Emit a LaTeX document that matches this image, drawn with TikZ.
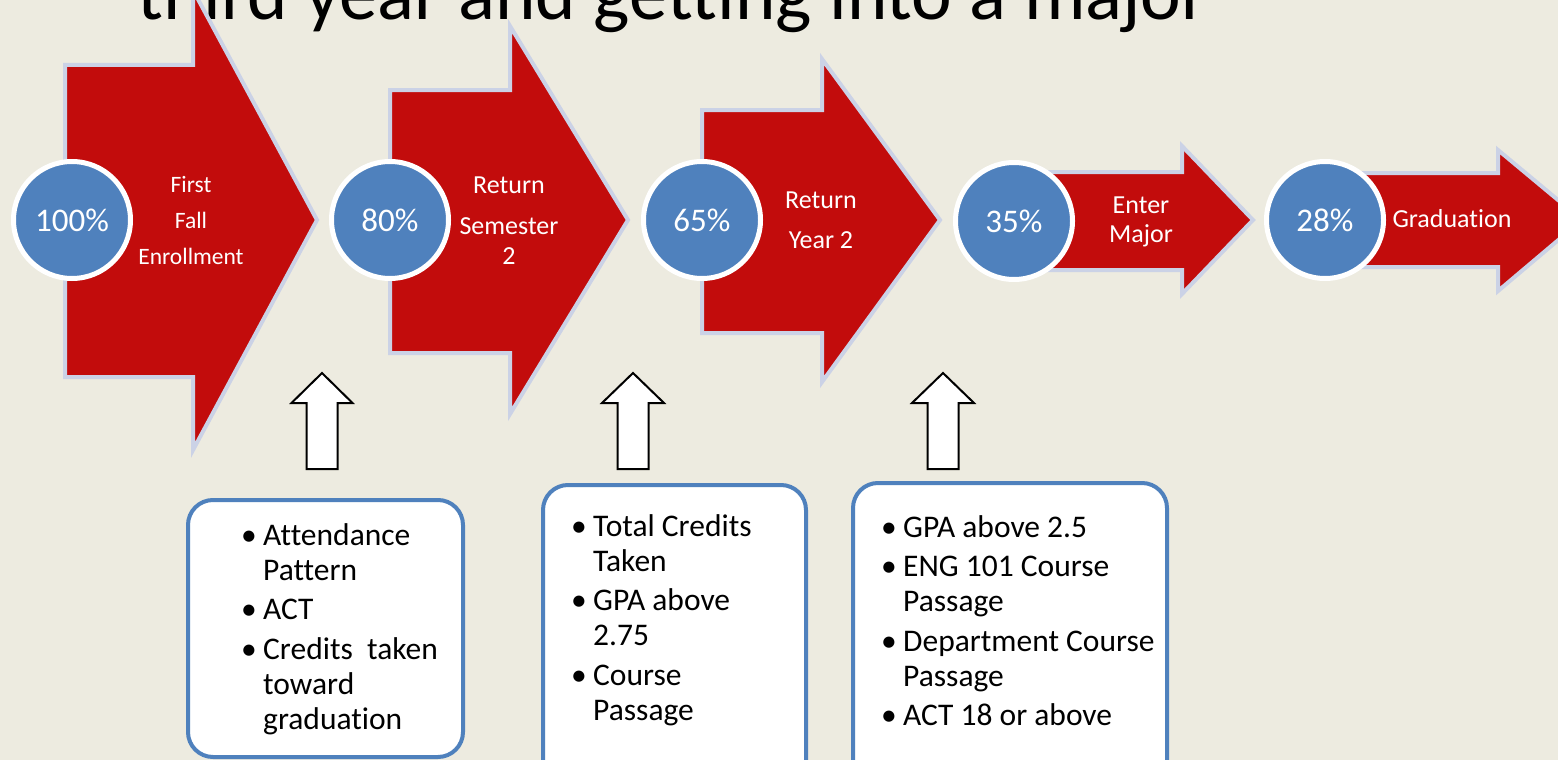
\documentclass[tikz,border=0pt]{standalone}
\usepackage{fontspec}
\setmainfont{Carlito}[Ligatures=CommonOff]
\definecolor{bg}{RGB}{237,235,224}
\definecolor{redfill}{RGB}{194,12,12}
\definecolor{glow}{RGB}{203,210,230}
\definecolor{pblue}{RGB}{79,129,189}
\newcommand\bitem[1]{\makebox[22pt][l]{\textbullet}#1}
\newcommand\bcont[1]{\hspace*{22pt}#1}
\begin{document}
\begin{tikzpicture}[x=1pt,y=-1pt,
  blockarrow/.style={fill=redfill, draw=glow, line width=4pt, line join=miter},
  pct/.style={circle, fill=pblue, draw=white, line width=5pt, minimum size=117pt, inner sep=0pt, text=white, font=\fontsize{33}{36}\selectfont},
  albl/.style={anchor=base, inner sep=0pt, text=white},
  uparrow/.style={fill=white, draw=black, line width=2pt, line join=miter},
  infobox/.style={fill=white, draw=pblue, line width=4pt, rounded corners=25pt},
  boxtext/.style={anchor=base west, inner sep=0pt, text=black}
]
\useasboundingbox (0,0) rectangle (1558,760);
\fill[bg] (0,0) rectangle (1558,760);

% title (cut at top)
\node[anchor=base, inner sep=0pt] (title) at (673,20) {\fontsize{77}{80}\selectfont third year and getting into a major};

% red block arrows
\path[blockarrow] (65,65) -- (193,65) -- (193,-10) -- (317,220) -- (193,450) -- (193,377) -- (65,377) -- cycle;
\path[blockarrow] (390,90) -- (510,90) -- (510,26) -- (628,220) -- (510,414) -- (510,353) -- (390,353) -- cycle;
\path[blockarrow] (702,110) -- (822,110) -- (822,59) -- (940,220) -- (822,382) -- (822,333) -- (702,333) -- cycle;
\path[blockarrow] (1014,172) -- (1182,172) -- (1182,146) -- (1253,220) -- (1182,294) -- (1182,270) -- (1014,270) -- cycle;
\path[blockarrow] (1325,173) -- (1498,173) -- (1498,150) -- (1582,220) -- (1498,291) -- (1498,267) -- (1325,267) -- cycle;

% arrow labels
\node[albl] (l1) at (191,192) {\parbox[t]{160pt}{\centering\fontsize{23.5}{36}\selectfont First\\Fall\\Enrollment}};
\node[albl] (l2) at (509,193) {\parbox[t]{160pt}{\centering\fontsize{26}{30}\selectfont Return\\[11pt]Semester\\2}};
\node[albl] (l3) at (821,208) {\parbox[t]{160pt}{\centering\fontsize{26}{40}\selectfont Return\\Year 2}};
\node[albl] (l4) at (1141,213) {\parbox[t]{160pt}{\centering\fontsize{26}{29}\selectfont Enter\\Major}};
\node[albl] (l5) at (1452,227) {\parbox[t]{160pt}{\centering\fontsize{26}{30}\selectfont Graduation}};

% percentage circles
\node[pct] (c1) at (72,220) {100\%};
\node[pct] (c2) at (390,220) {80\%};
\node[pct] (c3) at (702,220) {65\%};
\node[pct] (c4) at (1014,221) {35\%};
\node[pct] (c5) at (1325,220) {28\%};

% up arrows
\path[uparrow] (306.5,469) -- (306.5,403) -- (291.5,403) -- (322,373) -- (352.5,403) -- (337.5,403) -- (337.5,469) -- cycle;
\path[uparrow] (617.5,469) -- (617.5,403) -- (602,403) -- (633,373) -- (664,403) -- (648.5,403) -- (648.5,469) -- cycle;
\path[uparrow] (927.5,469) -- (927.5,403) -- (912,403) -- (943,373) -- (974,403) -- (958.5,403) -- (958.5,469) -- cycle;

% info boxes
\path[infobox] (188,500) rectangle (463,757);
\path[infobox] (543,485) rectangle (806,790);
\path[infobox] (853,483) rectangle (1167,790);

\node[boxtext] (t1) at (241,545) {\parbox[t]{240pt}{\fontsize{31.5}{35}\selectfont
\bitem{Attendance}\\ \bcont{Pattern}\\[4.5pt]
\bitem{ACT}\\[4.5pt]
\bitem{Credits\ \ taken}\\ \bcont{toward}\\ \bcont{graduation}}};
\node[boxtext] (t2) at (571,536) {\parbox[t]{240pt}{\fontsize{31.5}{35}\selectfont
\bitem{Total Credits}\\ \bcont{Taken}\\[4.5pt]
\bitem{GPA above}\\ \bcont{2.75}\\[4.5pt]
\bitem{Course}\\ \bcont{Passage}}};
\node[boxtext] (t3) at (881,537) {\parbox[t]{300pt}{\fontsize{31.5}{35}\selectfont
\bitem{GPA above 2.5}\\[4.5pt]
\bitem{ENG 101 Course}\\ \bcont{Passage}\\[4.5pt]
\bitem{Department Course}\\ \bcont{Passage}\\[4.5pt]
\bitem{ACT 18 or above}}};
\end{tikzpicture}
\end{document}
